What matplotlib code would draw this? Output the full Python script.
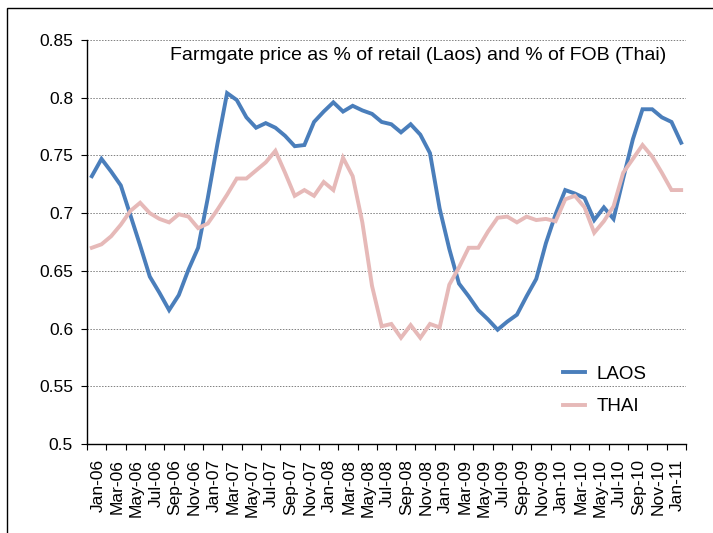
import numpy as np
import matplotlib
matplotlib.use('Agg')
import matplotlib.pyplot as plt
import matplotlib.transforms as mtransforms
from matplotlib.patches import Rectangle

plt.rcParams['font.family'] = ['Liberation Sans', 'DejaVu Sans']

# Monthly data Jan-06 .. Feb-11
month_names = ['Jan', 'Feb', 'Mar', 'Apr', 'May', 'Jun',
               'Jul', 'Aug', 'Sep', 'Oct', 'Nov', 'Dec']
labels = [f"{month_names[m % 12]}-{6 + m // 12:02d}" for m in range(62)]

laos = [0.732, 0.747, 0.736, 0.724, 0.698, 0.672, 0.645, 0.631, 0.616, 0.629,
        0.651, 0.670, 0.713, 0.760, 0.804, 0.798, 0.783, 0.774, 0.778, 0.774,
        0.767, 0.758, 0.759, 0.779, 0.788, 0.796, 0.788, 0.793, 0.789, 0.786,
        0.779, 0.777, 0.770, 0.777, 0.768, 0.752, 0.704, 0.669, 0.639, 0.628,
        0.616, 0.608, 0.599, 0.606, 0.612, 0.628, 0.643, 0.674, 0.699, 0.720,
        0.717, 0.713, 0.694, 0.705, 0.695, 0.730, 0.764, 0.790, 0.790, 0.783,
        0.779, 0.761]

thai = [0.670, 0.673, 0.680, 0.690, 0.702, 0.709, 0.700, 0.695, 0.692, 0.699,
        0.697, 0.687, 0.691, 0.703, 0.716, 0.730, 0.730, 0.737, 0.744, 0.754,
        0.735, 0.715, 0.720, 0.715, 0.727, 0.720, 0.748, 0.732, 0.692, 0.637,
        0.602, 0.604, 0.592, 0.603, 0.592, 0.604, 0.601, 0.638, 0.653, 0.670,
        0.670, 0.684, 0.696, 0.697, 0.692, 0.697, 0.694, 0.695, 0.693, 0.712,
        0.715, 0.705, 0.683, 0.693, 0.706, 0.735, 0.747, 0.759, 0.749, 0.735,
        0.720, 0.720]

yticks = [0.5, 0.55, 0.6, 0.65, 0.7, 0.75, 0.8, 0.85]
ytick_labels = ['0.5', '0.55', '0.6', '0.65', '0.7', '0.75', '0.8', '0.85']

W, H = 713, 533
fig = plt.figure(figsize=(W / 100, H / 100), dpi=100)
ax = fig.add_axes([87 / W, 1 - 444 / H, 599 / W, 404 / H])

x = np.arange(len(laos))
ax.plot(x, laos, color='#4a7ebb', lw=2.8, label='LAOS', solid_joinstyle='miter')
ax.plot(x, thai, color='#e6b9b8', lw=2.8, label='THAI', solid_joinstyle='miter')

ax.set_xlim(-0.5, len(laos) - 0.5)
ax.set_ylim(0.5, 0.85)

# gridlines
for yv in yticks[1:]:
    ax.axhline(yv, color='#808080', lw=0.7, ls=(0, (1.5, 1.5)), zorder=0)

ax.set_yticks(yticks)
ax.set_yticklabels(ytick_labels, fontsize=12.5)
ax.tick_params(axis='y', length=4, width=0.8, pad=6)

# category labels every two months, tick marks at category boundaries
ax.set_xticks(x[::2])
ax.set_xticklabels(labels[::2], rotation=90, fontsize=12.5)
ax.tick_params(axis='x', length=0, pad=11)
ax.set_xticks(np.arange(-0.5, len(laos), 2), minor=True)
ax.tick_params(axis='x', which='minor', length=4, width=0.8)
shift = mtransforms.ScaledTranslation(6 / 100, 0, fig.dpi_scale_trans)
for lab in ax.get_xticklabels():
    lab.set_transform(lab.get_transform() + shift)

for s in ['top', 'right']:
    ax.spines[s].set_visible(False)
for s in ['left', 'bottom']:
    ax.spines[s].set_linewidth(1.0)

ax.text(0.553, 0.962, 'Farmgate price as % of retail (Laos) and % of FOB (Thai)',
        transform=ax.transAxes, ha='center', va='center', fontsize=14)

ax.legend(loc='upper left', bbox_to_anchor=(0.766, 0.235), frameon=False,
          fontsize=13.5, handlelength=1.2, handletextpad=0.6, labelspacing=0.8)

# outer chart frame (top and left edges visible)
fig.patches.append(Rectangle((7 / W, -0.1), 1.2, 1 - 8 / H + 0.1,
                             transform=fig.transFigure, fill=False,
                             edgecolor='black', lw=1.0))

fig.savefig('out.png', dpi=100)
